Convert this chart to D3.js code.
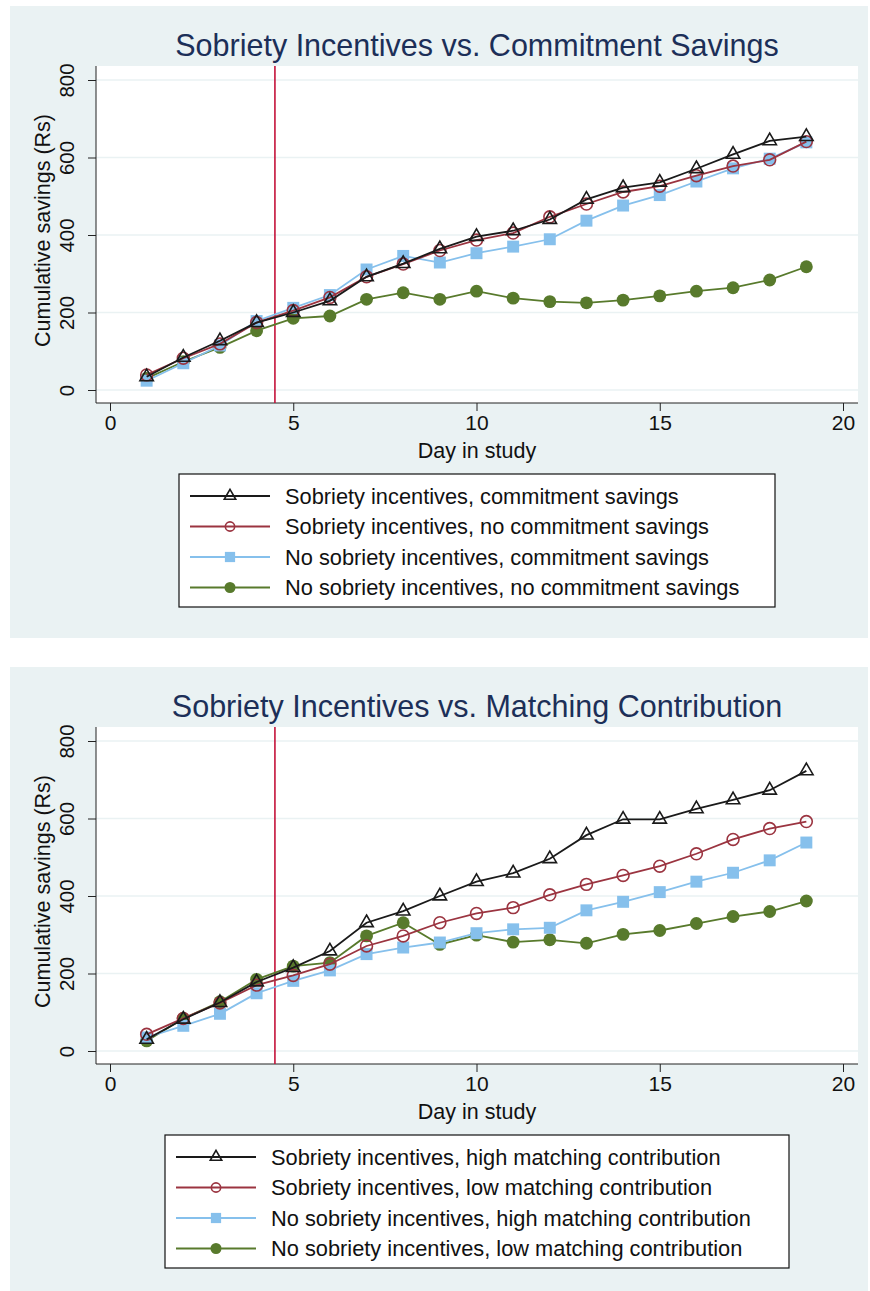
<!DOCTYPE html>
<html>
<head>
<meta charset="utf-8">
<script src="https://cdn.jsdelivr.net/npm/d3@7"></script>
<style>
  body { margin: 0; background: #fff; }
  svg { display: block; font-family: "Liberation Sans", Arial, sans-serif; }
</style>
</head>
<body>
<svg id="chart" width="870" height="1291"></svg>
<script>
// days 1..19
var days = d3.range(1, 20);
var xTicks = [0, 5, 10, 15, 20];
var yTicks = [0, 200, 400, 600, 800];
var cutoffDay = 4.5;

// panel 1: commitment savings
var titleTop = "Sobriety Incentives vs. Commitment Savings";
var labelsTop = [
  "Sobriety incentives, commitment savings",
  "Sobriety incentives, no commitment savings",
  "No sobriety incentives, commitment savings",
  "No sobriety incentives, no commitment savings"
];
var sobCommit   = [34, 84, 127, 174, 200, 230, 292, 326, 364, 396, 411, 440, 492, 522, 536, 571, 608, 643, 654];
var sobNoCommit = [39, 82, 119, 174, 205, 239, 292, 325, 360, 387, 405, 447, 480, 511, 526, 553, 578, 594, 641];
var noSobCommit = [24, 69, 115, 178, 212, 245, 311, 346, 329, 353, 370, 389, 437, 476, 503, 538, 572, 597, 639];
var noSobNoCommit = [30, 73, 110, 153, 185, 191, 234, 251, 234, 255, 237, 228, 225, 232, 243, 255, 264, 284, 318];

// panel 2: matching contribution
var titleBottom = "Sobriety Incentives vs. Matching Contribution";
var labelsBottom = [
  "Sobriety incentives, high matching contribution",
  "Sobriety incentives, low matching contribution",
  "No sobriety incentives, high matching contribution",
  "No sobriety incentives, low matching contribution"
];
var sobHigh   = [30, 82, 125, 178, 215, 258, 331, 361, 400, 437, 459, 496, 557, 598, 598, 625, 648, 673, 723];
var sobLow    = [43, 84, 124, 170, 195, 224, 271, 297, 331, 355, 370, 403, 430, 453, 477, 509, 546, 574, 592];
var noSobHigh = [35, 65, 96, 149, 181, 208, 250, 267, 280, 304, 314, 318, 363, 385, 410, 437, 460, 492, 538];
var noSobLow  = [26, 84, 127, 185, 219, 228, 297, 331, 275, 299, 281, 287, 278, 301, 311, 329, 347, 360, 387];

var styles = [
  { color: "#1a1a1a", marker: "triangle", fill: "none" },
  { color: "#9b3440", marker: "circle", fill: "none" },
  { color: "#86c0ec", marker: "square", fill: "#86c0ec" },
  { color: "#587a2c", marker: "circle", fill: "#587a2c" }
];

var svg = d3.select("#chart");

function drawMarker(g, type, style, size) {
  if (type === "triangle") {
    g.append("path")
      .attr("d", d3.symbol().type(d3.symbolTriangle).size(size * 0.6))
      .attr("fill", "none")
      .attr("stroke", style.color).attr("stroke-width", 1.6);
  } else if (type === "square") {
    g.append("path")
      .attr("d", d3.symbol().type(d3.symbolSquare).size(size * 1.1))
      .attr("fill", style.fill);
  } else if (style.fill === "none") {
    g.append("path")
      .attr("d", d3.symbol().type(d3.symbolCircle).size(size * 0.85))
      .attr("fill", "none")
      .attr("stroke", style.color).attr("stroke-width", 1.6);
  } else {
    g.append("path")
      .attr("d", d3.symbol().type(d3.symbolCircle).size(size))
      .attr("fill", style.fill);
  }
}

function drawPanel(top, title, labels, series, legendBox) {
  var panel = svg.append("g").attr("transform", "translate(0," + top + ")");

  panel.append("rect")
    .attr("x", 10).attr("y", 0)
    .attr("width", 858).attr("height", 632)
    .attr("fill", "#eaf2f3");

  panel.append("text")
    .attr("x", 477).attr("y", 50)
    .attr("text-anchor", "middle")
    .attr("font-size", 30.5)
    .attr("fill", "#1c2f58")
    .text(title);

  var plotL = 96, plotR = 858, plotT = 60, plotB = 397;

  panel.append("rect")
    .attr("x", plotL).attr("y", plotT)
    .attr("width", plotR - plotL).attr("height", plotB - plotT)
    .attr("fill", "#fff");

  var x = d3.scaleLinear().domain([0, 20]).range([110, 843]);
  var y = d3.scaleLinear().domain([0, 800]).range([384, 74]);

  // grid
  panel.append("g")
    .selectAll("line")
    .data(yTicks)
    .enter().append("line")
    .attr("x1", plotL).attr("x2", plotR)
    .attr("y1", function(d) { return y(d); })
    .attr("y2", function(d) { return y(d); })
    .attr("stroke", "#eaf2f3").attr("stroke-width", 1.5);

  // y axis
  var yAxis = panel.append("g")
    .attr("transform", "translate(" + plotL + ",0)")
    .call(d3.axisLeft(y).tickValues(yTicks).tickSize(8).tickSizeOuter(0).tickPadding(6));
  yAxis.select(".domain").attr("d", "M0," + plotT + "V" + plotB).attr("stroke", "#222");
  yAxis.selectAll(".tick line").attr("stroke", "#222");
  yAxis.selectAll(".tick text")
    .attr("font-size", 20.5)
    .attr("fill", "#111")
    .attr("transform", "rotate(-90)")
    .attr("x", 0).attr("y", -29)
    .attr("dy", "0.35em")
    .attr("text-anchor", "middle");

  // x axis
  var xAxis = panel.append("g")
    .attr("transform", "translate(0," + plotB + ")")
    .call(d3.axisBottom(x).tickValues(xTicks).tickSize(8).tickSizeOuter(0).tickPadding(4));
  xAxis.select(".domain").attr("d", "M" + plotL + ",0H" + plotR).attr("stroke", "#222");
  xAxis.selectAll(".tick line").attr("stroke", "#222");
  xAxis.selectAll(".tick text").attr("font-size", 21).attr("fill", "#111");

  panel.append("text")
    .attr("x", 477).attr("y", 452)
    .attr("text-anchor", "middle")
    .attr("font-size", 21.5)
    .attr("fill", "#111")
    .text("Day in study");

  panel.append("text")
    .attr("transform", "translate(44," + ((plotT + plotB) / 2 - 4) + ") rotate(-90)")
    .attr("text-anchor", "middle")
    .attr("dy", "0.3em")
    .attr("font-size", 21.5)
    .attr("fill", "#111")
    .text("Cumulative savings (Rs)");

  // cutoff line
  panel.append("line")
    .attr("x1", x(cutoffDay)).attr("x2", x(cutoffDay))
    .attr("y1", plotT).attr("y2", plotB)
    .attr("stroke", "#c4123a").attr("stroke-width", 1.6);

  var line = d3.line()
    .x(function(d, i) { return x(days[i]); })
    .y(function(d) { return y(d); });

  // draw series in reverse so the first sits on top
  for (var s = series.length - 1; s >= 0; s--) {
    var st = styles[s];
    panel.append("path")
      .datum(series[s])
      .attr("d", line)
      .attr("fill", "none")
      .attr("stroke", st.color)
      .attr("stroke-width", 1.8);
    series[s].forEach(function(v, i) {
      var mg = panel.append("g")
        .attr("transform", "translate(" + x(days[i]) + "," + y(v) + ")");
      drawMarker(mg, st.marker, st, 130);
    });
  }

  // legend
  var lg = panel.append("g");
  lg.append("rect")
    .attr("x", legendBox.x).attr("y", 468)
    .attr("width", legendBox.w).attr("height", 133)
    .attr("fill", "#fff").attr("stroke", "#111").attr("stroke-width", 1.2);
  labels.forEach(function(lab, i) {
    var ly = 490 + i * 30.5;
    var st = styles[i];
    lg.append("line")
      .attr("x1", legendBox.x + 11).attr("x2", legendBox.x + 91)
      .attr("y1", ly).attr("y2", ly)
      .attr("stroke", st.color).attr("stroke-width", 1.8);
    var mg = lg.append("g").attr("transform", "translate(" + (legendBox.x + 51) + "," + ly + ")");
    drawMarker(mg, st.marker, st, i === 1 ? 80 : 95);
    lg.append("text")
      .attr("x", legendBox.x + 106).attr("y", ly)
      .attr("dy", "0.35em")
      .attr("font-size", 21.8)
      .attr("fill", "#111")
      .text(lab);
  });
}

drawPanel(6, titleTop, labelsTop,
  [sobCommit, sobNoCommit, noSobCommit, noSobNoCommit],
  { x: 179, w: 596 });
drawPanel(667, titleBottom, labelsBottom,
  [sobHigh, sobLow, noSobHigh, noSobLow],
  { x: 165, w: 624 });
</script>
</body>
</html>
